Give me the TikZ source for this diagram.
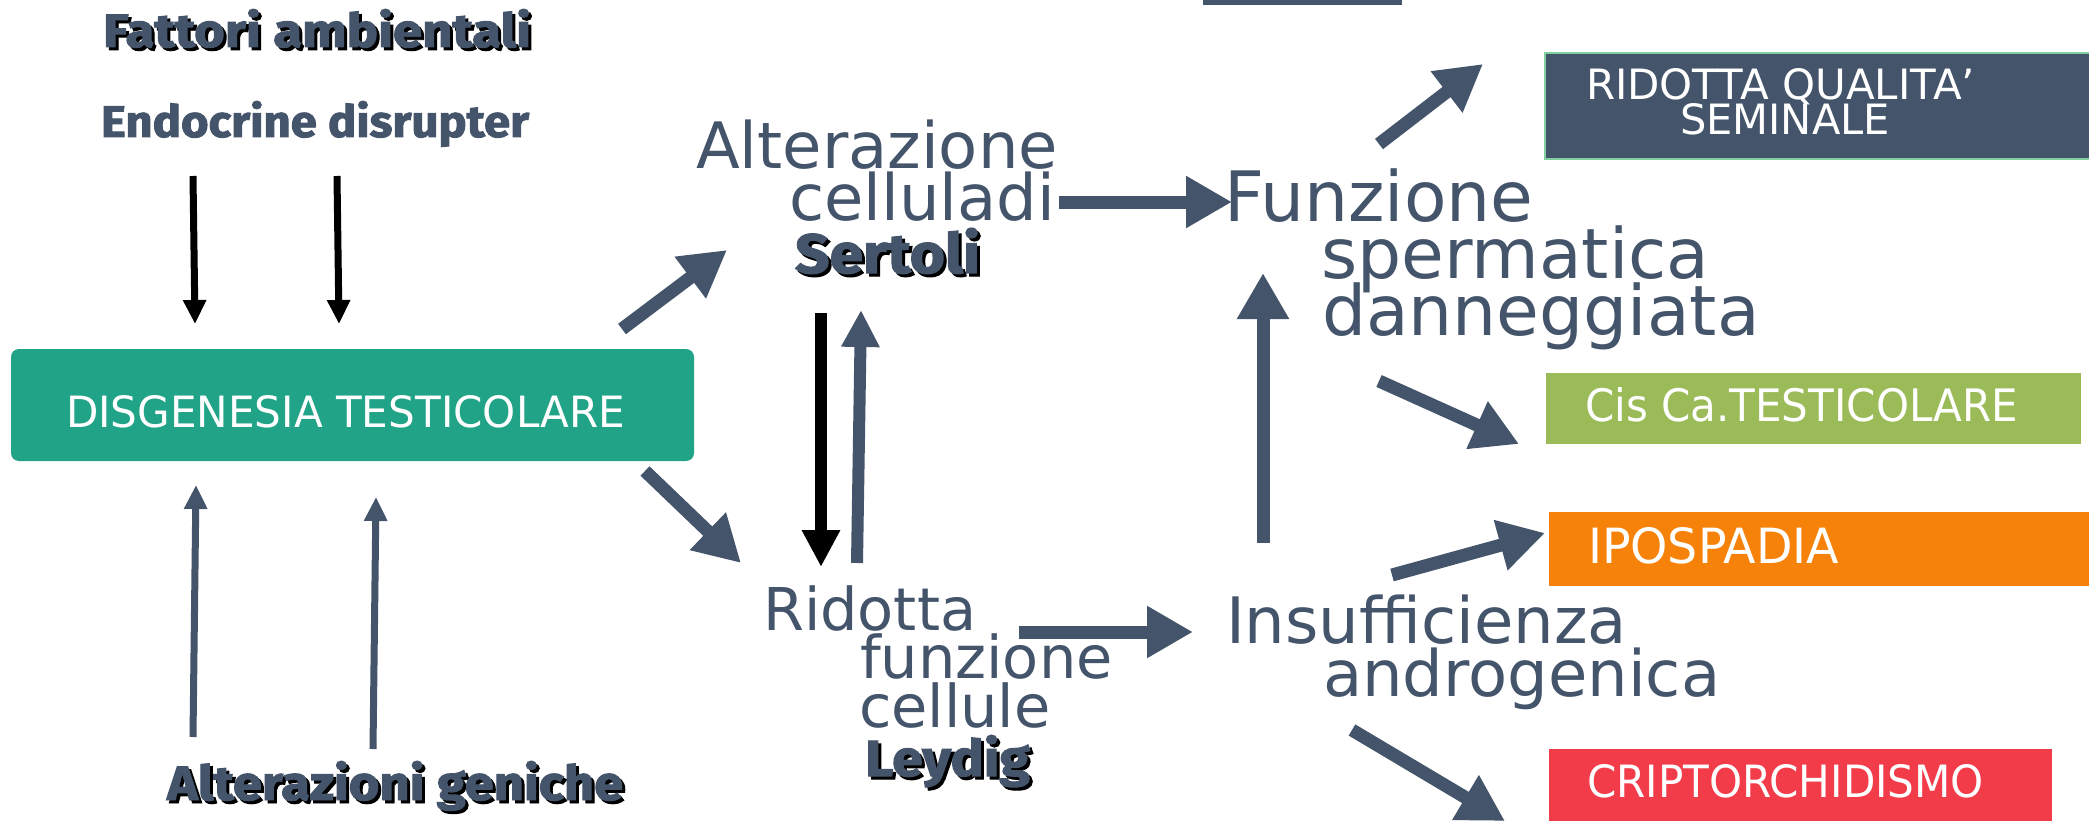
\documentclass[tikz,border=0pt]{standalone}
\usepackage{fontspec}
\usetikzlibrary{arrows.meta}
\setmainfont{DejaVu Sans}
\newfontfamily\dvs{DejaVu Sans}
\newfontfamily\heavy{Fira Sans}[FakeBold=2]
\definecolor{slate}{HTML}{44546A}
\definecolor{teal1}{HTML}{20A386}
\definecolor{olive1}{HTML}{9BBB59}
\definecolor{orange1}{HTML}{F6820A}
\definecolor{red1}{HTML}{F23C4A}
\definecolor{mint1}{HTML}{82CFA0}
\newcommand\fitbox[3]{\resizebox{#1pt}{#2pt}{#3}}
\newcommand\hv[3]{\fitbox{#1}{#2}{\heavy\bfseries #3}}
\newcommand\bx[3]{\fitbox{#1}{#2}{\dvs #3}}
\tikzset{
  lbl/.style={anchor=base west, inner sep=0pt, outer sep=0pt, text=slate},
  shd/.style={anchor=base west, inner sep=0pt, outer sep=0pt, text=black},
  wtxt/.style={anchor=base west, inner sep=0pt, outer sep=0pt, text=white},
  fsA/.style={font={\fontsize{64pt}{64pt}\selectfont}},
  fsF/.style={font={\fontsize{69.5pt}{70pt}\selectfont}},
  fsR/.style={font={\fontsize{59pt}{59pt}\selectfont}},
  fsI/.style={font={\fontsize{64pt}{64pt}\selectfont}},
  panel/.style={anchor=north west, inner sep=0pt, outer sep=0pt, draw=none},
  bigarrow/.style={draw=slate, line width=13pt, -{Triangle[length=46pt,width=49pt]}},
  midarrow/.style={line width=12pt, -{Triangle[length=37pt,width=36pt]}},
  thinarrow/.style={line width=7pt, -{Triangle[length=24pt,width=22pt]}},
}
\begin{document}
\begin{tikzpicture}[x=1pt,y=-1pt]
\fill[white] (0,0) rectangle (2089,824);
\useasboundingbox (0,0) rectangle (2089,824);

% top cut-off bar
\fill[slate] (1203,0) rectangle (1402,5);

% left texts
\node[shd] (fattS) at (106,50) {\hv{428}{38}{Fattori ambientali}};
\node[lbl] (fatt) at (103,47) {\hv{428}{38}{Fattori ambientali}};
\node[lbl] (endo) at (101,137) {\hv{428}{36}{Endocrine disrupter}};
\node[shd] (altgS) at (170,803) {\hv{456}{39}{Alterazioni geniche}};
\node[lbl] (altg) at (167,800) {\hv{456}{39}{Alterazioni geniche}};

% green box
\node[panel, fill=teal1, rounded corners=8pt, minimum width=683pt, minimum height=112pt] (disg) at (11,349) {};
\node[wtxt] (disgT) at (66,427) {\bx{559}{32}{DISGENESIA TESTICOLARE}};

% Sertoli group
\node[lbl,fsA] (alt1) at (696,168) {Alterazione};
\node[lbl,fsA] (alt2) at (789,220) {celluladi};
\node[shd] (sertS) at (798,276) {\hv{185}{45}{Sertoli}};
\node[lbl] (sert) at (795,273) {\hv{185}{45}{Sertoli}};

% Leydig group
\node[lbl,fsR] (rid1) at (763,630) {Ridotta};
\node[lbl,fsR] (rid2) at (860,678) {funzione};
\node[lbl,fsR] (rid3) at (859,727) {cellule};
\node[shd] (leyS) at (868,779) {\hv{165}{41}{Leydig}};
\node[lbl] (ley) at (865,776) {\hv{165}{41}{Leydig}};

% Funzione group
\node[lbl,fsF] (fun1) at (1224,221) {Funzione};
\node[lbl,fsF] (fun2) at (1321,278) {spermatica};
\node[lbl,fsF] (fun3) at (1322,335) {danneggiata};

% Insufficienza group
\node[lbl,fsI] (ins1) at (1226,643) {Insufficienza};
\node[lbl,fsI] (ins2) at (1323,696) {androgenica};

% right boxes
\node[panel, fill=slate, draw=mint1, line width=2pt, minimum width=560pt, minimum height=106pt] (rq) at (1545,53) {};
\node[wtxt] (rqT1) at (1586,100) {\bx{389}{31}{RIDOTTA QUALITA’}};
\node[wtxt] (rqT2) at (1680,135) {\bx{210}{31}{SEMINALE}};

\node[panel, fill=olive1, minimum width=535pt, minimum height=71pt] (cis) at (1546,373) {};
\node[wtxt] (cisT) at (1585,421) {\bx{433}{34}{Cis Ca.TESTICOLARE}};

\node[panel, fill=orange1, minimum width=545pt, minimum height=74pt] (ipo) at (1549,512) {};
\node[wtxt] (ipoT) at (1588,563) {\bx{251}{36}{IPOSPADIA}};

\node[panel, fill=red1, minimum width=503pt, minimum height=72pt] (cri) at (1549,749) {};
\node[wtxt] (criT) at (1587,797) {\bx{397}{33}{CRIPTORCHIDISMO}};

% arrow end points
\coordinate (e1a) at (193,176); \coordinate (e1b) at (195,324);
\coordinate (e2a) at (337,176); \coordinate (e2b) at (339,324);
\coordinate (g1a) at (193,737); \coordinate (g1b) at (196,485);
\coordinate (g2a) at (373,749); \coordinate (g2b) at (376,497);
\coordinate (d1a) at (622,329); \coordinate (d1b) at (727,250);
\coordinate (d2a) at (645,471); \coordinate (d2b) at (741,563);
\coordinate (sda) at (821,313); \coordinate (sdb) at (821,567);
\coordinate (sua) at (857,563); \coordinate (sub) at (861,310);
\coordinate (h1a) at (1059,202); \coordinate (h1b) at (1232,202);
\coordinate (h2a) at (1019,632); \coordinate (h2b) at (1193,632);
\coordinate (vua) at (1263,543); \coordinate (vub) at (1263,273);
\coordinate (f1a) at (1379,144); \coordinate (f1b) at (1483,64);
\coordinate (f2a) at (1379,381); \coordinate (f2b) at (1519,444);
\coordinate (i1a) at (1392,575); \coordinate (i1b) at (1545,533);
\coordinate (i2a) at (1352,730); \coordinate (i2b) at (1505,821);

% thin arrows
\draw[thinarrow, draw=black] (e1a) -- (e1b);
\draw[thinarrow, draw=black] (e2a) -- (e2b);
\draw[thinarrow, draw=slate] (g1a) -- (g1b);
\draw[thinarrow, draw=slate] (g2a) -- (g2b);

% Sertoli/Leydig verticals
\draw[midarrow, draw=black] (sda) -- (sdb);
\draw[midarrow, draw=slate] (sua) -- (sub);

% big arrows
\draw[bigarrow] (d1a) -- (d1b);
\draw[bigarrow] (d2a) -- (d2b);
\draw[bigarrow] (h1a) -- (h1b);
\draw[bigarrow] (h2a) -- (h2b);
\draw[bigarrow] (vua) -- (vub);
\draw[bigarrow] (f1a) -- (f1b);
\draw[bigarrow] (f2a) -- (f2b);
\draw[bigarrow] (i1a) -- (i1b);
\draw[bigarrow] (i2a) -- (i2b);
\end{tikzpicture}
\end{document}
